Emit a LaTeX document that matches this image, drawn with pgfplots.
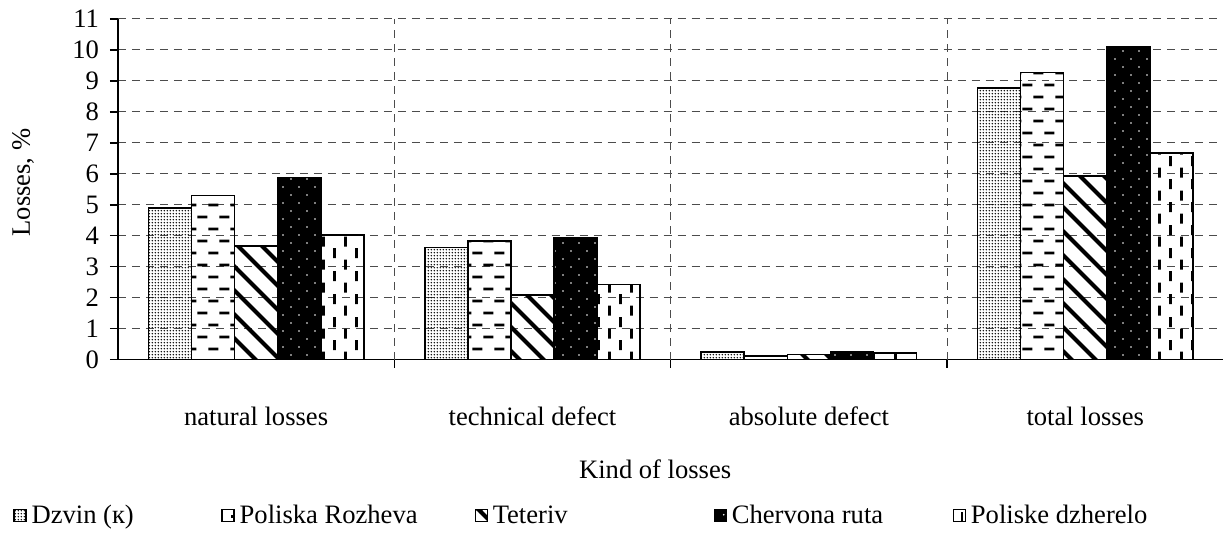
\documentclass[border=0pt]{standalone}
\usepackage{fontspec}
\setmainfont{Liberation Serif}
\usepackage{pgfplots}
\pgfplotsset{compat=1.18}
\usetikzlibrary{patterns.meta}

\tikzdeclarepattern{
  name=finedots, type=uncolored,
  bottom left={(0pt,0pt)}, top right={(1.4pt,1.4pt)},
  tile size={(1.4pt,1.4pt)},
  code={\fill (0.7pt,0.7pt) circle (0.43pt);}
}
\tikzdeclarepattern{
  name=hdash, type=uncolored,
  bottom left={(0pt,0pt)}, top right={(11pt,12pt)},
  tile size={(11pt,12pt)},
  code={\draw[line width=1.3pt] (0.25pt,3pt) -- (5.25pt,3pt);
        \draw[line width=1.3pt] (5.75pt,9pt) -- (10.75pt,9pt);}
}
\tikzdeclarepattern{
  name=vdash, type=uncolored,
  bottom left={(0pt,0pt)}, top right={(11pt,11.5pt)},
  tile size={(11pt,11.5pt)},
  code={\draw[line width=1.3pt] (2.75pt,0.4pt) -- (2.75pt,5.4pt);
        \draw[line width=1.3pt] (8.25pt,6.15pt) -- (8.25pt,11.15pt);}
}
\tikzdeclarepattern{
  name=wdiag, type=uncolored,
  bottom left={(0pt,0pt)}, top right={(12pt,12pt)},
  tile size={(12pt,12pt)},
  code={\draw[line width=2pt] (-1pt,13pt) -- (13pt,-1pt);
        \draw[line width=2pt] (-1pt,1pt) -- (1pt,-1pt);
        \draw[line width=2pt] (11pt,13pt) -- (13pt,11pt);}
}
\tikzdeclarepattern{
  name=sparsedots, type=uncolored,
  bottom left={(0pt,0pt)}, top right={(8pt,8pt)},
  tile size={(8pt,8pt)},
  code={\fill (2pt,2pt) circle (0.45pt); \fill (6pt,6pt) circle (0.45pt);}
}

\pgfplotsset{
  mylegend/.style={legend image code/.code={\draw[##1,line width=0.6pt] (0pt,-3pt) rectangle (6pt,3pt);}},
}

\begin{document}
\begin{tikzpicture}[font=\fontsize{13.3pt}{16pt}\selectfont]
\begin{axis}[
  name=ax,
  scale only axis,
  width=553pt, height=170.5pt,
  ybar=0pt, bar width=0.156,
  xmin=-0.5, xmax=3.5, ymin=0, ymax=11,
  ytick={0,1,...,11},
  xtick={0,1,2,3},
  xticklabels={natural losses, technical defect, absolute defect, total losses},
  axis x line=bottom, axis y line=left,
  axis line style={black, line width=0.6pt, -},
  tick align=outside, major tick length=4pt,
  xtick style={draw=none},
  ytick style={black, line width=0.6pt},
  ymajorgrids=true,
  major grid style={dash pattern=on 4pt off 3pt, black!70, line width=0.5pt},
  extra x ticks={0.5,1.5,2.5},
  extra x tick labels={},
  extra x tick style={grid=major, xtick style={draw=black, line width=0.6pt}},
  /pgf/number format/assume math mode=true,
  yticklabel style={xshift=-2pt},
  xticklabel style={yshift=-16pt},
  xlabel={Kind of losses},
  xlabel style={at={([yshift=-54.5pt]axis description cs:0.486,0)}, anchor=center},
  ylabel={Losses, \%},
  ylabel style={at={([xshift=-47.5pt]axis description cs:0,0.52)}, anchor=center},
  legend columns=5,
  legend style={at={(axis description cs:0,0)}, anchor=west, xshift=-52.5pt, yshift=-78pt,
    draw=none, fill=none, inner sep=0pt, column sep=2.5pt, nodes={inner sep=0pt}},
]
\addplot[mylegend, draw=black, line width=0.8pt, pattern=finedots, pattern color=black]
  coordinates {(0,4.90) (1,3.62) (2,0.25) (3,8.77)};
\addplot[mylegend, draw=black, line width=0.8pt, pattern=hdash, pattern color=black]
  coordinates {(0,5.30) (1,3.84) (2,0.13) (3,9.27)};
\addplot[mylegend, draw=black, line width=0.8pt, pattern=wdiag, pattern color=black]
  coordinates {(0,3.68) (1,2.09) (2,0.17) (3,5.94)};
\addplot[mylegend, draw=black, line width=0.8pt, fill=black, postaction={pattern=sparsedots, pattern color=white}]
  coordinates {(0,5.88) (1,3.95) (2,0.27) (3,10.10)};
\addplot[mylegend, draw=black, line width=0.8pt, pattern=vdash, pattern color=black]
  coordinates {(0,4.02) (1,2.43) (2,0.22) (3,6.67)};
\legend{\makebox[92.5pt][l]{Dzvin (к)}, \makebox[115pt][l]{Poliska Rozheva}, \makebox[108pt][l]{Teteriv}, \makebox[108pt][l]{Chervona ruta}, Poliske dzherelo}
\end{axis}
\path ([xshift=-59pt,yshift=-87.5pt]ax.south west) rectangle ([yshift=9.5pt]ax.north east);
\end{tikzpicture}
\end{document}
